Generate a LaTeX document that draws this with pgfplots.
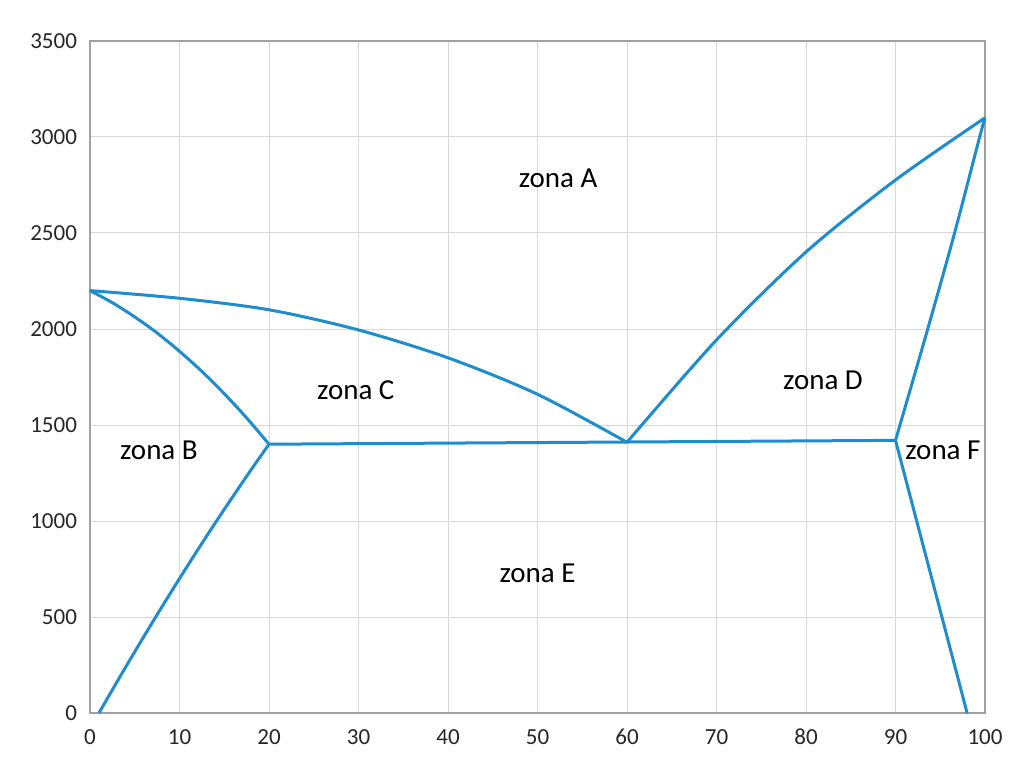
\documentclass[border=0pt]{standalone}
\usepackage{fontspec}
\setmainfont{Carlito}
\usepackage{pgfplots}
\pgfplotsset{compat=1.18}
\definecolor{lineblue}{RGB}{30,140,205}
\definecolor{gridgray}{RGB}{215,215,215}
\definecolor{axgray}{RGB}{160,160,160}
\begin{document}
\begin{tikzpicture}
\useasboundingbox (-45pt,-26pt) rectangle (462.5pt,356.5pt);
\begin{axis}[
  scale only axis,
  width=447.5pt, height=336pt,
  xmin=0, xmax=100, ymin=0, ymax=3500,
  xtick={0,10,...,100}, ytick={0,500,...,3500},
  grid=major,
  major grid style={gridgray, line width=0.5pt},
  axis line style={axgray, line width=0.6pt},
  tick style={draw=none},
  ticklabel style={font=\fontsize{11.5}{13}\selectfont, text=black!85},
  /pgf/number format/assume math mode=true,
  /pgf/number format/set thousands separator={},
  yticklabel style={xshift=-3pt},
  xticklabel style={yshift=-4pt, text height=8pt, text depth=0pt},
  every axis plot/.append style={lineblue, line width=1.5pt, line join=round, no markers},
  clip=false,
]
% left liquidus
\addplot[smooth] coordinates {(0,2200) (10,2160) (20,2100) (30,1995) (40,1850) (50,1660) (60,1410)};
% left solidus
\addplot[smooth] coordinates {(0,2200) (2.5,2137) (5,2063) (7.5,1979) (10,1884) (12.5,1779) (15,1663) (17.5,1537) (20,1400)};
% left solvus
\addplot[smooth] coordinates {(1,0) (3.5,201) (6,397) (8.5,588) (11,774) (13.5,955) (16,1130) (18,1267) (20,1400)};
% eutectic line
\addplot[sharp plot] coordinates {(20,1400) (90,1420)};
% right liquidus
\addplot[smooth] coordinates {(60,1410) (70,1943) (80,2401) (90,2776) (100,3100)};
% right solidus
\addplot[smooth] coordinates {(90,1420) (93.6,2000) (96.6,2500) (99.4,3000) (100,3100)};
% right solvus
\addplot[sharp plot] coordinates {(90,1420) (98,0)};
\begin{scope}[every node/.style={font=\fontsize{14.5}{16}\selectfont, text=black}]
\node at (axis cs:52.3,2786) {zona A};
\node at (axis cs:7.7,1370) {zona B};
\node at (axis cs:29.7,1682) {zona C};
\node at (axis cs:81.9,1734) {zona D};
\node at (axis cs:50,729) {zona E};
\node at (axis cs:95.3,1370) {zona F};
\end{scope}
\end{axis}
\end{tikzpicture}
\end{document}
